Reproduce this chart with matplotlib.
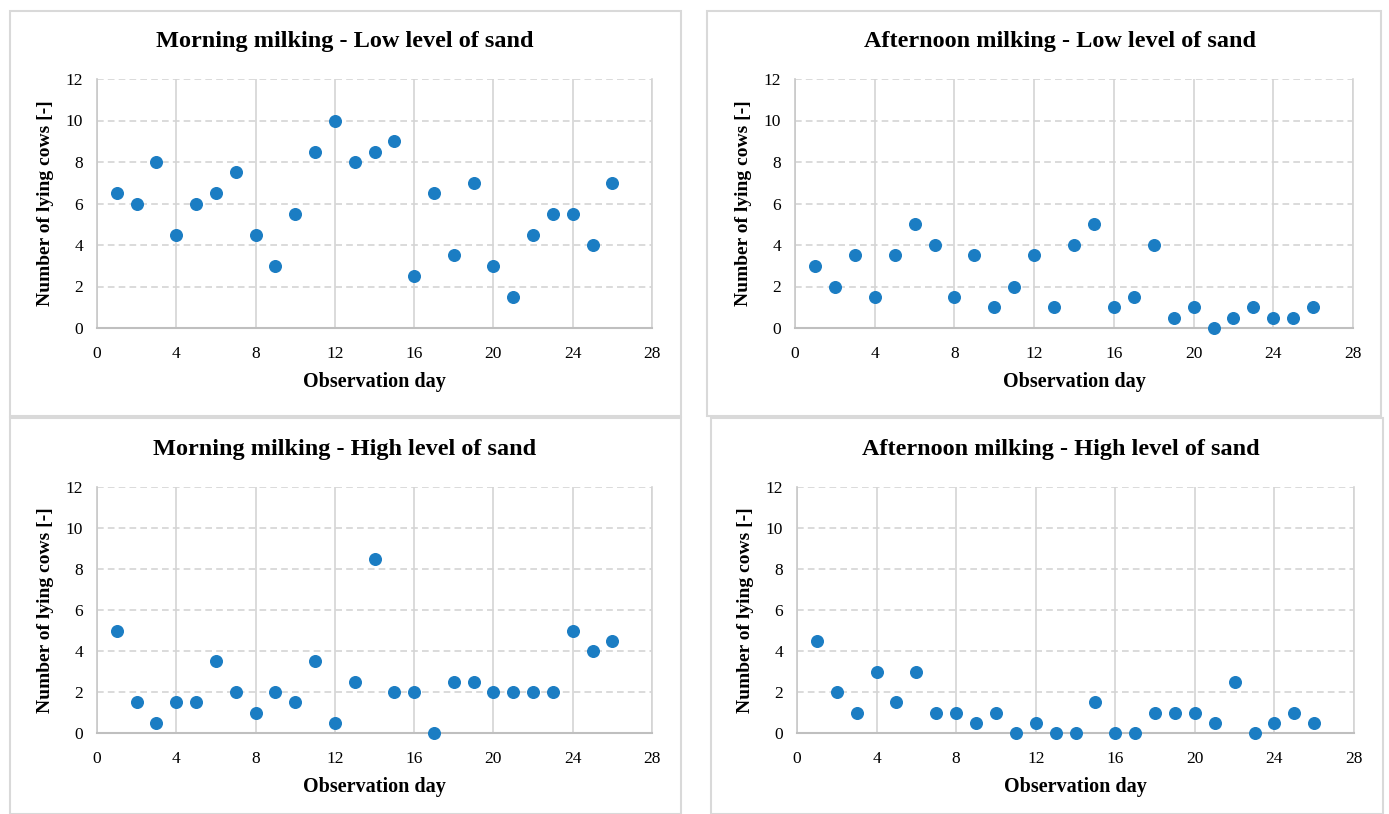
import matplotlib.pyplot as plt
from matplotlib.patches import Rectangle
import numpy as np

plt.rcParams['font.family'] = ['Liberation Serif', 'DejaVu Serif']

days = list(range(1, 27))

morning_low = [6.5, 6, 8, 4.5, 6, 6.5, 7.5, 4.5, 3, 5.5, 8.5, 10, 8, 8.5, 9,
               2.5, 6.5, 3.5, 7, 3, 1.5, 4.5, 5.5, 5.5, 4, 7]
afternoon_low = [3, 2, 3.5, 1.5, 3.5, 5, 4, 1.5, 3.5, 1, 2, 3.5, 1, 4, 5,
                 1, 1.5, 4, 0.5, 1, 0, 0.5, 1, 0.5, 0.5, 1]
morning_high = [5, 1.5, 0.5, 1.5, 1.5, 3.5, 2, 1, 2, 1.5, 3.5, 0.5, 2.5, 8.5, 2,
                2, 0, 2.5, 2.5, 2, 2, 2, 2, 5, 4, 4.5]
afternoon_high = [4.5, 2, 1, 3, 1.5, 3, 1, 1, 0.5, 1, 0, 0.5, 0, 0, 1.5,
                  0, 0, 1, 1, 1, 0.5, 2.5, 0, 0.5, 1, 0.5]

titles = ['Morning milking - Low level of sand', 'Afternoon milking - Low level of sand',
          'Morning milking - High level of sand', 'Afternoon milking - High level of sand']
series = [morning_low, afternoon_low, morning_high, afternoon_high]

W, H = 1389, 814
fig = plt.figure(figsize=(W / 100, H / 100), dpi=100)

# rahmen um jedes teilbild (pixel: x0, y0, x1, y1)
boxes = [(10, 11, 681, 416), (707, 11, 1381, 416), (10, 418, 681, 814), (711, 418, 1383, 814)]
# achsen in pixeln (x0, x1, ytop, ybottom)
axes_px = [(97, 652, 79, 328), (795, 1353, 79, 328), (97, 652, 487, 733), (797, 1354, 487, 733)]
# titelmitte in pixeln
title_px = [(345, 42), (1060, 42), (345, 449), (1061, 449)]

for i in range(4):
    bx0, by0, bx1, by1 = boxes[i]
    fig.patches.append(Rectangle((bx0 / W, 1 - by1 / H), (bx1 - bx0) / W, (by1 - by0) / H,
                                 transform=fig.transFigure, fill=False,
                                 edgecolor='#d9d9d9', linewidth=1.5))
    x0, x1, yt, yb = axes_px[i]
    ax = fig.add_axes([x0 / W, 1 - yb / H, (x1 - x0) / W, (yb - yt) / H])
    ax.scatter(days, series[i], s=70, color='#1b7dc3', zorder=3, clip_on=False)
    ax.set_xlim(0, 28)
    ax.set_ylim(0, 12)
    ax.set_xticks(np.arange(0, 29, 4))
    ax.set_yticks(np.arange(0, 13, 2))
    ax.tick_params(length=0, labelsize=12.5, pad=13)
    ax.tick_params(axis='y', pad=10)
    ax.xaxis.grid(True, color='#d4d4d4', linewidth=1.2)
    ax.yaxis.grid(True, color='#d4d4d4', linewidth=1.2, linestyle=(0, (4, 2.5)))
    ax.set_axisbelow(True)
    ax.spines['top'].set_visible(False)
    ax.spines['right'].set_color('#d4d4d4')
    ax.spines['right'].set_linewidth(1.2)
    ax.spines['left'].set_color('#c8c8c8')
    ax.spines['left'].set_linewidth(1.2)
    ax.spines['bottom'].set_color('#bfbfbf')
    ax.spines['bottom'].set_linewidth(1.5)
    ax.set_xlabel('Observation day', fontsize=14.5, fontweight='bold', labelpad=7)
    ax.set_ylabel('Number of lying cows [-]', fontsize=14, fontweight='bold', labelpad=8)
    tx, ty = title_px[i]
    fig.text(tx / W, 1 - ty / H, titles[i], fontsize=17.5,
             fontweight='bold', ha='center', va='center')

plt.savefig('out.png', dpi=100)
